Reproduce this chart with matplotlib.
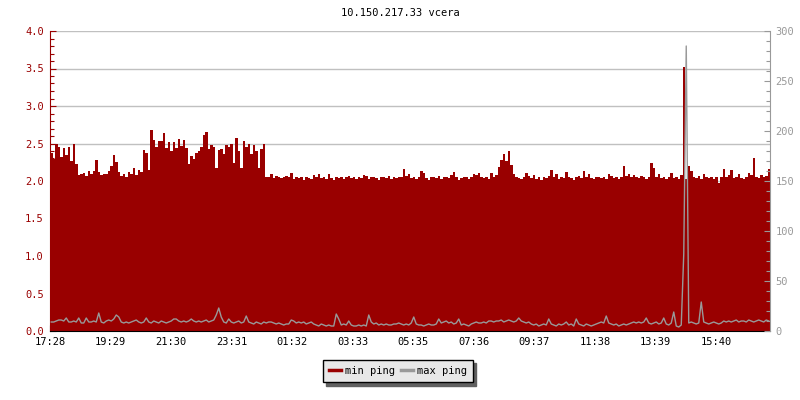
import numpy as np
import matplotlib
matplotlib.use("Agg")
import matplotlib.pyplot as plt
from matplotlib.lines import Line2D
from matplotlib.ticker import MultipleLocator

TITLE = "10.150.217.33 vcera"
STEP_MIN = 5  # one sample every 5 minutes, 24 h window

# min ping (left axis)
min_ping = [
    2.37, 2.30, 2.50, 2.46, 2.32, 2.44, 2.35, 2.46, 2.27, 2.49, 2.22,
    2.08, 2.10, 2.11, 2.07, 2.13, 2.10, 2.14, 2.28, 2.12, 2.08, 2.10, 2.09, 2.13,
    2.20, 2.35, 2.26, 2.12, 2.07, 2.10, 2.06, 2.12, 2.09, 2.17, 2.08, 2.15, 2.12, 2.42,
    2.37, 2.15,
    2.68, 2.55, 2.46, 2.54, 2.53, 2.64, 2.44, 2.52, 2.40, 2.52, 2.44, 2.56, 2.47,
    2.55, 2.44, 2.23, 2.34, 2.29, 2.38, 2.40, 2.45, 2.61, 2.65, 2.43, 2.48, 2.45,
    2.18, 2.41, 2.43, 2.36, 2.48, 2.45, 2.50, 2.24, 2.57, 2.40, 2.17, 2.53, 2.46,
    2.50, 2.36, 2.48, 2.40, 2.17, 2.43, 2.50,
    2.05, 2.06, 2.09, 2.04, 2.07, 2.05, 2.04, 2.06, 2.07, 2.05,
    2.11, 2.03, 2.05, 2.04, 2.06, 2.02, 2.05, 2.04, 2.03, 2.08, 2.05, 2.10,
    2.04, 2.06, 2.03, 2.10, 2.04, 2.02, 2.05, 2.04, 2.06, 2.03, 2.05, 2.07,
    2.04, 2.05, 2.03, 2.06, 2.04, 2.08, 2.07, 2.03, 2.05, 2.06, 2.04, 2.02,
    2.05, 2.06, 2.04, 2.07, 2.03, 2.05, 2.04, 2.06, 2.05, 2.16, 2.07, 2.10,
    2.04, 2.06, 2.03, 2.05, 2.14, 2.11, 2.04, 2.02, 2.05, 2.06, 2.04, 2.07,
    2.03, 2.05, 2.06, 2.04, 2.08, 2.12, 2.05, 2.02, 2.04, 2.06, 2.05, 2.03,
    2.06, 2.10, 2.08, 2.11, 2.06, 2.04, 2.05, 2.03, 2.11, 2.05, 2.08, 2.19,
    2.28, 2.36, 2.27, 2.40, 2.21, 2.10, 2.05, 2.04, 2.03, 2.05, 2.11, 2.07,
    2.04, 2.08, 2.03, 2.05, 2.02, 2.06, 2.04, 2.07, 2.15, 2.05, 2.09, 2.03,
    2.05, 2.04, 2.12, 2.06, 2.04, 2.02, 2.05, 2.07, 2.04, 2.13, 2.06, 2.09,
    2.04, 2.03, 2.06, 2.05, 2.04, 2.06, 2.03, 2.09, 2.07, 2.04, 2.05, 2.03,
    2.06, 2.20, 2.07, 2.09, 2.05, 2.08, 2.06, 2.04, 2.07, 2.05, 2.03, 2.06,
    2.24, 2.18, 2.05, 2.10, 2.04, 2.06, 2.03, 2.05, 2.11, 2.04, 2.06, 2.03,
    2.08, 3.52, 2.03, 2.20, 2.14, 2.05, 2.04, 2.07, 2.03, 2.09, 2.05, 2.04,
    2.06, 2.03, 2.05, 1.97, 2.06, 2.16, 2.05, 2.08, 2.15, 2.04, 2.06, 2.10,
    2.04, 2.03, 2.05, 2.11, 2.08, 2.31, 2.05, 2.04, 2.08, 2.05, 2.07, 2.16,
]

# max ping (right axis)
max_ping = [
    9, 9, 10, 11, 11, 10, 13, 9, 9, 10, 9, 13,
    8, 8, 13, 9, 9, 10, 9, 18, 9, 8, 10, 11,
    10, 12, 16, 14, 9, 8, 9, 8, 9, 10, 11, 9,
    8, 9, 13, 9, 8, 10, 9, 8, 10, 9, 8, 9,
    10, 12, 12, 10, 9, 10, 9, 10, 12, 10, 9, 10,
    9, 10, 11, 9, 10, 11, 16, 23, 14, 9, 8, 12,
    9, 8, 9, 10, 8, 9, 15, 9, 8, 7, 9, 8,
    7, 9, 8, 9, 9, 8, 7, 8, 7, 6, 7, 7,
    11, 10, 8, 9, 8, 9, 7, 8, 9, 7, 6, 5,
    7, 6, 5, 6, 5, 5, 17, 12, 6, 7, 6, 10,
    6, 5, 5, 6, 5, 6, 5, 16, 9, 7, 8, 6,
    7, 6, 7, 6, 6, 7, 7, 8, 7, 6, 7, 6,
    8, 14, 7, 6, 6, 5, 6, 7, 6, 6, 7, 12,
    8, 9, 10, 8, 9, 7, 8, 12, 6, 7, 6, 5,
    7, 8, 9, 8, 8, 9, 8, 10, 10, 9, 10, 10,
    11, 9, 10, 11, 10, 9, 10, 13, 10, 9, 8, 9,
    7, 6, 7, 5, 6, 7, 6, 12, 7, 6, 5, 7,
    6, 7, 9, 6, 7, 5, 12, 7, 6, 5, 7, 6,
    5, 6, 7, 8, 9, 8, 15, 8, 7, 6, 7, 5,
    6, 7, 6, 7, 8, 9, 8, 9, 8, 9, 13, 8,
    7, 8, 9, 7, 8, 13, 7, 6, 8, 19, 5, 4,
    6, 77, 285, 8, 9, 8, 7, 8, 29, 9, 8, 7,
    8, 9, 8, 7, 8, 10, 9, 10, 9, 10, 11, 9,
    10, 10, 9, 11, 10, 9, 10, 11, 10, 9, 11, 10,
]

x_labels = ["17:28", "19:29", "21:30", "23:31", "01:32", "03:33",
            "05:35", "07:36", "09:37", "11:38", "13:39", "15:40"]
TICK_STEP_MIN = 121.1

RED = "#990000"
GREY = "#999999"
FONT = "DejaVu Sans Mono"
FS = 7.5

plt.rcParams["font.family"] = FONT
plt.rcParams["font.size"] = FS

fig = plt.figure(figsize=(8, 4), dpi=100)
ax = fig.add_axes([50 / 800, 69 / 400, 720 / 800, 300 / 400])
ax2 = ax.twinx()

t_min = np.arange(len(min_ping)) * STEP_MIN
t_max = np.arange(len(max_ping)) * STEP_MIN + STEP_MIN / 2

ax.bar(t_min, min_ping, width=STEP_MIN, align="edge", color=RED,
       linewidth=0, zorder=2)
ax2.plot(t_max, max_ping, color=GREY, lw=1.0, zorder=3)

ax.set_xlim(0, 1440)
ax.set_ylim(0, 4.0)
ax2.set_ylim(0, 300)

ax.set_axisbelow(True)
ax.yaxis.set_major_locator(MultipleLocator(0.5))
ax.yaxis.set_minor_locator(MultipleLocator(0.1))
ax.yaxis.set_major_formatter(plt.FormatStrFormatter("%.1f"))
ax.grid(axis="y", which="major", color="#c0c0c0", lw=1.0, zorder=0)

ax2.yaxis.set_major_locator(MultipleLocator(50))
ax2.yaxis.set_minor_locator(MultipleLocator(10))

ax.set_xticks([k * TICK_STEP_MIN for k in range(len(x_labels))])
ax.set_xticklabels(x_labels)

# spines
ax.spines["top"].set_visible(False)
ax.spines["right"].set_visible(False)
ax.spines["left"].set_color(RED)
ax.spines["bottom"].set_color("black")
for s in ["top", "left", "bottom"]:
    ax2.spines[s].set_visible(False)
ax2.spines["right"].set_color(GREY)

ax.tick_params(axis="y", which="major", direction="in", length=4.3, width=0.8,
               color=RED, labelcolor=RED, pad=4.5, labelsize=FS)
ax.tick_params(axis="y", which="minor", direction="in", length=2.9, width=0.8,
               color=RED)
ax.tick_params(axis="x", direction="in", length=4, width=0.8, color="black",
               labelcolor="black", pad=4, labelsize=FS)
ax2.tick_params(axis="y", which="major", direction="in", length=4.3, width=0.8,
                color=GREY, labelcolor=GREY, pad=4, labelsize=FS)
ax2.tick_params(axis="y", which="minor", direction="in", length=2.9, width=0.8,
                color=GREY)

fig.text(0.5, 1 - 13 / 400, TITLE, ha="center", va="center",
         fontsize=FS, color="black")

handles = [Line2D([], [], color=RED, lw=2.5), Line2D([], [], color=GREY, lw=2.5)]
leg = fig.legend(handles, ["min ping", "max ping"], loc="center",
                 bbox_to_anchor=(398 / 800, 1 - 371 / 400), ncol=2,
                 fancybox=False, framealpha=1, facecolor="#e8e8e8",
                 edgecolor="black", handlelength=1.1, handletextpad=0.4,
                 columnspacing=0.6, borderpad=0.6, fontsize=FS,
                 shadow={"ox": 2.5, "oy": -2.5, "color": "#606060", "alpha": 1})
leg.get_frame().set_linewidth(1.0)

fig.savefig("out.png", dpi=100)
